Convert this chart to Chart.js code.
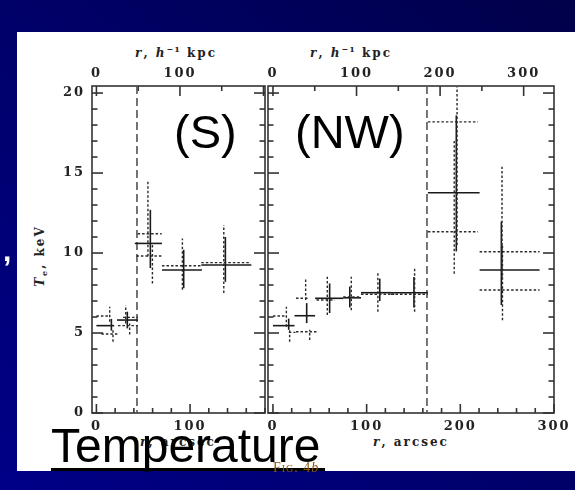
<!DOCTYPE html>
<html>
<head>
<meta charset="utf-8">
<script src="https://cdn.jsdelivr.net/npm/chart.js@4.4.0/dist/chart.umd.min.js"></script>
<style>
html, body { margin: 0; padding: 0; }
body {
	width: 575px; height: 490px; overflow: hidden; position: relative;
	background: linear-gradient(to bottom left, #00004a, #000088);
}
#sheet { position: absolute; left: 17px; top: 32px; width: 558px; height: 439px; background: #fff; }
canvas { position: absolute; left: 0; top: 0; }
.lbl {
	position: absolute; font-family: "DejaVu Serif", serif; font-size: 12px; line-height: 14px;
	font-weight: bold; letter-spacing: 2px; color: #222; white-space: nowrap;
}
.lbl sup { font-size: 8px; line-height: 0; letter-spacing: 1px; }
.big {
	position: absolute; font-family: "Liberation Sans", Arial, sans-serif; color: #000;
	white-space: nowrap;
}
</style>
</head>
<body>
<div id="sheet"></div>

<div class="lbl" style="left:176px; top:46px; transform:translateX(-50%);"><i>r</i>, <i>h</i><sup>−1</sup> kpc</div>
<div class="lbl" style="left:351px; top:46px; transform:translateX(-50%);"><i>r</i>, <i>h</i><sup>−1</sup> kpc</div>
<div class="lbl" style="left:178px; top:435px; transform:translateX(-50%);"><i>r</i>, arcsec</div>
<div class="lbl" style="left:411px; top:435px; transform:translateX(-50%);"><i>r</i>, arcsec</div>
<div class="lbl" style="left:40px; top:256px; transform:translate(-50%,-50%) rotate(-90deg);"><i>T</i><sub style="font-size:8px;line-height:0;">e</sub>, keV</div>

<canvas id="chartS" width="575" height="490"></canvas>
<canvas id="chartNW" width="575" height="490"></canvas>

<div class="big" style="left:174px; top:108px; font-size:47px; line-height:47px;">(S)</div>
<div class="big" style="left:295px; top:108px; font-size:47px; line-height:47px;">(NW)</div>
<div class="big" style="left:51px; top:422px; font-size:48px; line-height:48px;">Temperature</div>
<div style="position:absolute; left:51px; top:468px; width:274px; height:3px; background:#000;"></div>
<div style="position:absolute; left:273px; top:461px; font-family:'Liberation Serif',serif; font-size:14px; line-height:14px; letter-spacing:1px; color:#8a5a14;"><span style="font-variant:small-caps;">Fig.</span> 4<i>b</i></div>
<div class="big" style="left:3px; top:236px; font-size:30px; line-height:30px; font-weight:bold; color:#fff;">,</div>

<script>
// radius in arcsec, temperature in keV
var arcPerKpc = 0.892;

// (S) sector, solid crosses
var sR = [16, 33, 57.6, 93.2, 137.7];
var sRLo = [0, 22, 41, 70, 112];
var sRHi = [19, 44.4, 70, 112.7, 165.4];
var sT = [5.46, 5.81, 10.6, 8.94, 9.25];
var sTLo = [5.15, 5.29, 9.06, 7.8, 8.2];
var sTHi = [5.88, 6.33, 12.7, 10.2, 11.0];

// (S) sector, dotted crosses
var sDotR = [14.2, 17.7, 31.3, 35.5, 55, 59.8, 91.8, 136];
var sDotRLo = [0, 5.3, 28.4, 23, 44, 42.7, 70, 112];
var sDotRHi = [14.2, 23, 44.4, 44.4, 69.7, 71, 112.7, 165];
var sDotT = [6.06, 4.94, 5.98, 5.46, 11.2, 9.81, 9.2, 9.4];
var sDotTLo = [5.7, 4.46, 5.6, 4.9, 9.8, 8.1, 7.7, 7.5];
var sDotTHi = [6.64, 5.19, 6.74, 5.6, 14.5, 10.5, 10.9, 11.75];

// (NW) sector, solid crosses
var nwR = [16.8, 36, 60.5, 82, 114, 150.5, 195.7, 243.8];
var nwRLo = [0, 23, 45, 75, 94, 126, 165.4, 220.6];
var nwRHi = [23, 45, 75, 94, 126, 165.4, 220.6, 284.6];
var nwT = [5.46, 6.08, 7.17, 7.2, 7.52, 7.52, 13.77, 8.94];
var nwTLo = [5.2, 5.62, 6.25, 6.6, 7.0, 6.6, 10.1, 6.75];
var nwTHi = [5.9, 6.87, 8.1, 7.9, 8.4, 8.5, 18.6, 11.96];

// (NW) sector, dotted crosses
var nwDotR = [14.3, 17.8, 34.9, 39.2, 58, 83.6, 112, 151.2, 196.5, 193.5, 244.5, 245];
var nwDotRLo = [0, 17, 24.6, 24.6, 46.5, 75, 94, 126, 165.4, 165.4, 220.6, 220.6];
var nwDotRHi = [14.3, 24, 37, 47.5, 66, 94, 129.5, 165, 218.8, 218.8, 284.6, 284.6];
var nwDotT = [6.06, 5.04, 7.17, 5.08, 7.06, 7.25, 7.42, 7.42, 18.2, 11.33, 10.08, 7.69];
var nwDotTLo = [5.39, 4.46, 7.06, 4.56, 6.12, 6.43, 6.33, 6.33, 10.5, 8.7, 8.5, 5.8];
var nwDotTHi = [6.64, 5.3, 8.4, 5.2, 8.52, 8.52, 8.83, 9.14, 20.4, 17, 15.4, 10.5];

// front positions (dashed lines)
var sFront = 43.3;
var nwFront = 164.4;

// tick labels
var tLabels = [0, 5, 10, 15, 20];
var sArcLabels = [0, 100];
var nwArcLabels = [0, 100, 200, 300];
var sKpcLabels = [0, 100];
var nwKpcLabels = [0, 100, 200, 300];

var tickFont = { family: 'DejaVu Serif', size: 13, weight: 'bold' };

function crossPoints(r, rLo, rHi, t, tLo, tHi) {
	return r.map(function (v, i) {
		return { x: v, y: t[i], xMin: rLo[i], xMax: rHi[i], yMin: tLo[i], yMax: tHi[i] };
	});
}

function stepTicks(step) {
	return function (scale) {
		var ticks = [];
		for (var v = Math.ceil(scale.min / step) * step; v <= scale.max + 1e-9; v += step) {
			ticks.push({ value: v });
		}
		scale.ticks = ticks;
	};
}

function labelIf(list) {
	return function (v) {
		return list.indexOf(v) >= 0 ? String(v) : '';
	};
}

var panelPlugin = {
	id: 'panel',
	beforeDraw: function (chart) {
		chart.ctx.letterSpacing = '2px';
	},
	afterDraw: function (chart, args, opts) {
		var ctx = chart.ctx;
		var a = chart.chartArea;
		var x = chart.scales.x, xt = chart.scales.xTop, y = chart.scales.y;

		function seg(x1, y1, x2, y2) {
			ctx.beginPath();
			ctx.moveTo(x1, y1);
			ctx.lineTo(x2, y2);
			ctx.stroke();
		}

		ctx.save();
		ctx.letterSpacing = '0px';
		ctx.strokeStyle = '#333';
		ctx.lineWidth = 1.6;
		ctx.strokeRect(a.left, a.top, a.right - a.left, a.bottom - a.top);

		y.ticks.forEach(function (t) {
			var py = y.getPixelForValue(t.value);
			var len = t.value % 5 === 0 ? 11 : 5.5;
			seg(a.left, py, a.left + len, py);
			seg(a.right, py, a.right - len, py);
		});
		x.ticks.forEach(function (t) {
			var px = x.getPixelForValue(t.value);
			var len = t.value % 100 === 0 ? 9 : 5;
			seg(px, a.bottom, px, a.bottom - len);
		});
		xt.ticks.forEach(function (t) {
			var px = xt.getPixelForValue(t.value);
			var len = t.value % 100 === 0 ? 10 : 5;
			seg(px, a.top, px, a.top + len);
		});

		// front position
		ctx.strokeStyle = '#555';
		ctx.setLineDash([8, 4]);
		var fx = x.getPixelForValue(opts.front);
		seg(fx, a.top, fx, a.bottom);

		chart.data.datasets.forEach(function (ds) {
			ctx.setLineDash(ds.dotted ? [2.5, 2] : []);
			ctx.strokeStyle = ds.dotted ? '#2a2a2a' : '#1a1a1a';
			ctx.lineWidth = ds.dotted ? 1.4 : 1.6;
			ds.data.forEach(function (p) {
				var py = y.getPixelForValue(p.y);
				var px = x.getPixelForValue(p.x);
				seg(x.getPixelForValue(p.xMin), py, x.getPixelForValue(p.xMax), py);
				seg(px, y.getPixelForValue(p.yMin), px, y.getPixelForValue(p.yMax));
			});
		});
		ctx.restore();
	}
};

function makePanel(id, cfg) {
	var ctx = document.getElementById(id).getContext('2d');
	return new Chart(ctx, {
		type: 'scatter',
		data: {
			datasets: [
				{ data: cfg.solid, dotted: false, pointRadius: 0 },
				{ data: cfg.dots, dotted: true, pointRadius: 0 }
			]
		},
		options: {
			responsive: false,
			animation: false,
			events: [],
			layout: { padding: cfg.padding },
			plugins: {
				legend: { display: false },
				tooltip: { enabled: false },
				panel: { front: cfg.front }
			},
			scales: {
				x: {
					type: 'linear', position: 'bottom', bounds: 'data',
					min: cfg.xMin, max: cfg.xMax,
					grid: { display: false, drawTicks: false },
					border: { display: false },
					afterBuildTicks: stepTicks(20),
					afterFit: function (s) { s.height = 30; },
					ticks: {
						autoSkip: false, maxRotation: 0, padding: 6, color: '#222', font: tickFont,
						callback: labelIf(cfg.arcLabels)
					}
				},
				xTop: {
					type: 'linear', axis: 'x', position: 'top', bounds: 'data',
					min: cfg.xMin / arcPerKpc, max: cfg.xMax / arcPerKpc,
					grid: { display: false, drawTicks: false },
					border: { display: false },
					afterBuildTicks: stepTicks(50),
					afterFit: function (s) { s.height = 30; },
					ticks: {
						autoSkip: false, maxRotation: 0, padding: 5, color: '#222', font: tickFont,
						callback: labelIf(cfg.kpcLabels)
					}
				},
				y: {
					type: 'linear', bounds: 'data',
					min: 0, max: 20.44,
					grid: { display: false, drawTicks: false },
					border: { display: false },
					afterBuildTicks: stepTicks(1),
					afterFit: function (s) { s.width = 60; },
					ticks: {
						display: cfg.showT, autoSkip: false, padding: 7, color: '#222', font: tickFont,
						callback: labelIf(tLabels)
					}
				}
			}
		},
		plugins: [panelPlugin]
	});
}

makePanel('chartS', {
	solid: crossPoints(sR, sRLo, sRHi, sT, sTLo, sTHi),
	dots: crossPoints(sDotR, sDotRLo, sDotRHi, sDotT, sDotTLo, sDotTHi),
	front: sFront,
	xMin: -4.7, xMax: 180,
	arcLabels: sArcLabels, kpcLabels: sKpcLabels, showT: true,
	padding: { left: 32, right: 310, top: 56, bottom: 47 }
});

makePanel('chartNW', {
	solid: crossPoints(nwR, nwRLo, nwRHi, nwT, nwTLo, nwTHi),
	dots: crossPoints(nwDotR, nwDotRLo, nwDotRHi, nwDotT, nwDotTLo, nwDotTHi),
	front: nwFront,
	xMin: -5.3, xMax: 300,
	arcLabels: nwArcLabels, kpcLabels: nwKpcLabels, showT: false,
	padding: { left: 208, right: 21, top: 56, bottom: 47 }
});
</script>
</body>
</html>
